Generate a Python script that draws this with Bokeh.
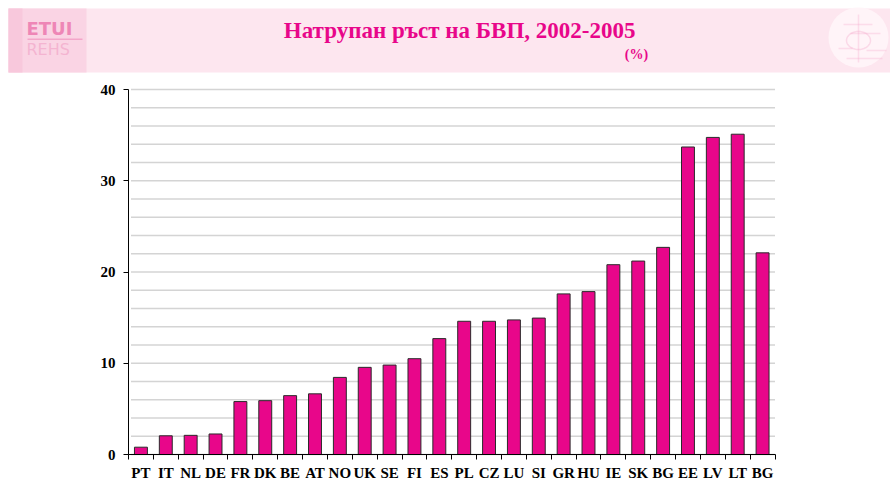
import math
from bokeh.plotting import figure
from bokeh.models import Range1d, FixedTicker, ColumnDataSource, BoxAnnotation, Label, PolyAnnotation
from bokeh.embed import file_html
from bokeh.resources import INLINE

# ---- data ----
countries = ["PT", "IT", "NL", "DE", "FR", "DK", "BE", "AT", "NO", "UK", "SE", "FI", "ES",
             "PL", "CZ", "LU", "SI", "GR", "HU", "IE", "SK", "BG", "EE", "LV", "LT", "BG"]
growth = [0.8, 2.05, 2.1, 2.25, 5.8, 5.9, 6.45, 6.65, 8.45, 9.55, 9.8, 10.5, 12.7,
          14.6, 14.6, 14.75, 14.95, 17.6, 17.85, 20.8, 21.2, 22.7, 33.7, 34.75, 35.1, 22.1]
title_text = "Натрупан ръст  на БВП, 2002-2005"
unit_text = "(%)"
y_ticks = [0, 10, 20, 30, 40]
grid_ticks = list(range(0, 41, 2))
y_min, y_max = 0, 40

MAGENTA = "#e8068a"
W, H = 890, 479

# plot-area geometry in page pixels
AX_L, AX_R, AX_T, AX_B = 128, 774.5, 89, 454
n = len(countries)
dx = (AX_R - AX_L) / n
dy = (AX_B - AX_T) / (y_max - y_min)
x_rng = Range1d(-0.5 - AX_L / dx, n - 0.5 + (W - AX_R) / dx)
y_rng = Range1d(y_min - (H - AX_B) / dy, y_max + AX_T / dy)

xs = list(range(n))
src = ColumnDataSource(dict(x=xs, top=growth))
p = figure(width=W, height=H, x_range=x_rng, y_range=y_rng,
           output_backend="svg", toolbar_location=None, min_border=0)
p.outline_line_color = None
p.background_fill_color = "white"
p.border_fill_color = "white"

# ---- header band (canvas units: page pixels from top-left) ----
C = dict(left_units="canvas", right_units="canvas", top_units="canvas", bottom_units="canvas")

def box(l, r, t, b, color):
    p.add_layout(BoxAnnotation(left=l, right=r, top=t, bottom=b, fill_color=color,
                               fill_alpha=1, line_color=None, level="underlay", **C))

box(8, W, 8, 72, "#fde6ef")
box(8, 86, 8, 72, "#fad4e4")
box(8, 22, 8, 72, "#f8c8dc")
p.add_layout(Label(x=26, y=28, x_units="canvas", y_units="canvas", text="ETUI",
                   text_font="DejaVu Sans", text_font_size="18px", text_font_style="bold",
                   text_color="#ee86b6", text_baseline="middle"))
box(27, 82, 38, 39.5, "#f3a6c9")
p.add_layout(Label(x=26, y=49, x_units="canvas", y_units="canvas", text="REHS",
                   text_font="DejaVu Sans", text_font_size="16px",
                   text_color="#f4b4d1", text_baseline="middle"))

# right logo
cx, cy, r = 858, 37, 30
p.add_layout(PolyAnnotation(xs=[cx + r * math.cos(t * math.pi / 20) for t in range(40)],
                            ys=[cy + r * math.sin(t * math.pi / 20) for t in range(40)],
                            xs_units="canvas", ys_units="canvas", level="underlay",
                            fill_color="#fff4f8", fill_alpha=1, line_color=None))
p.add_layout(PolyAnnotation(xs=[cx + 12 * math.cos(t * math.pi / 20) for t in range(40)],
                            ys=[40 + 9 * math.sin(t * math.pi / 20) for t in range(40)],
                            xs_units="canvas", ys_units="canvas", level="underlay",
                            fill_color=None, fill_alpha=0, line_color="#f29cc4", line_width=1.5))
for (x0, y0, x1, y1) in [(858, 14, 858, 62), (843, 24, 872, 24), (846, 58, 882, 58),
                         (838, 48, 852, 48), (866, 50, 886, 50), (850, 33, 880, 33)]:
    p.add_layout(PolyAnnotation(xs=[x0, x1], ys=[y0, y1], level="underlay",
                                xs_units="canvas", ys_units="canvas",
                                fill_color=None, fill_alpha=0, line_color="#f4a6ca", line_width=1.5))

# titles
p.add_layout(Label(x=462, y=30, x_units="canvas", y_units="canvas", text=title_text,
                   text_font="Liberation Serif", text_font_size="23px", text_font_style="bold",
                   text_color=MAGENTA, text_align="center", text_baseline="middle"))
p.add_layout(Label(x=636, y=54, x_units="canvas", y_units="canvas", text=unit_text,
                   text_font="Liberation Serif", text_font_size="14px", text_font_style="bold",
                   text_color=MAGENTA, text_align="center", text_baseline="middle"))

# ---- grid lines (limited to the plot area) ----
p.xgrid.visible = False
p.ygrid.visible = False
p.segment(x0=-0.5 + 0.1, x1=n - 0.5, y0=grid_ticks, y1=grid_ticks,
          line_color="#d4d4d4", line_width=1.5)

# ---- bars ----
p.vbar(x="x", top="top", width=0.52, bottom=0, source=src,
       fill_color=MAGENTA, line_color="#2a2a2a", line_width=1)

# ---- axes drawn at the plot-area edges ----
yax = p.yaxis[0]
yax.fixed_location = -0.5
yax.bounds = (y_min, y_max)
yax.ticker = FixedTicker(ticks=y_ticks)
yax.axis_line_color = "black"
yax.axis_line_width = 1
yax.major_tick_line_color = "black"
yax.major_tick_out = 5
yax.major_tick_in = 0
yax.minor_tick_line_color = None
yax.major_label_text_font = "Liberation Serif"
yax.major_label_text_font_style = "bold"
yax.major_label_text_font_size = "15px"
yax.major_label_text_color = "black"
yax.major_label_standoff = 8

xax = p.xaxis[0]
xax.fixed_location = 0
xax.bounds = (-0.5, n - 0.5)
xax.ticker = FixedTicker(ticks=xs, minor_ticks=[i - 0.5 for i in range(n + 1)])
xax.major_label_overrides = {i: c for i, c in enumerate(countries)}
xax.axis_line_color = "black"
xax.major_tick_line_color = None
xax.major_tick_out = 5
xax.major_tick_in = 0
xax.minor_tick_line_color = "black"
xax.minor_tick_out = 5
xax.minor_tick_in = 0
xax.major_label_text_font = "Liberation Serif"
xax.major_label_text_font_style = "bold"
xax.major_label_text_font_size = "15px"
xax.major_label_text_color = "black"
xax.major_label_standoff = 5

open("out.html", "w").write(file_html(p, INLINE))
